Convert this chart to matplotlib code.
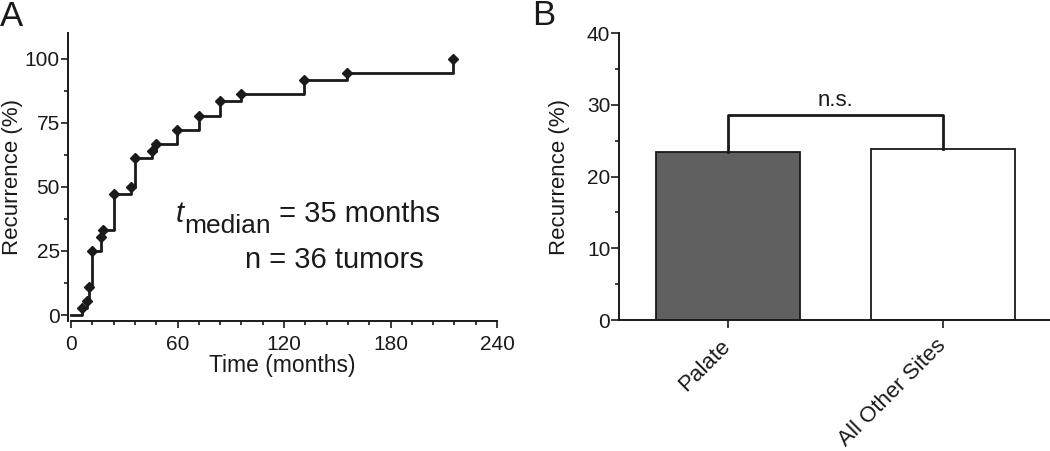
import numpy as np
import matplotlib
matplotlib.use('Agg')
import matplotlib.pyplot as plt
from matplotlib.ticker import MultipleLocator

plt.rcParams['font.family'] = ['Liberation Sans', 'DejaVu Sans']

# panel A: cumulative recurrence (step curve)
event_months = [0, 6, 8.8, 10, 12, 16.7, 18, 24, 33.6, 36, 45.4, 48, 59.5,
                72, 84, 95.6, 131.3, 155.7, 215.4]
recurrence_pct = [0, 2.8, 5.6, 11.1, 25.0, 30.6, 33.3, 47.2, 50.0, 61.1, 63.9,
                  66.7, 72.2, 77.8, 83.3, 86.1, 91.7, 94.4, 100.0]
median_text = ' = 35 months'
n_text = 'n = 36 tumors'

# panel B: recurrence by site
sites = ['Palate', 'All Other Sites']
site_recurrence = [23.5, 23.8]
bracket_height = 28.6
sig_label = 'n.s.'

INK = '#1a1a1a'

fig = plt.figure(figsize=(10.5, 4.51), dpi=100)

# ---------------- panel A ----------------
axA = fig.add_axes([68 / 1050, (451 - 320.7) / 451, (497 - 68) / 1050, (320.7 - 33) / 451])
axA.step(event_months, recurrence_pct, where='post', color=INK, lw=2.0,
         clip_on=False, zorder=3)
axA.plot(event_months[1:], recurrence_pct[1:], 'D', color=INK, markersize=5,
         clip_on=False, zorder=4)

axA.set_xlim(-1.7, 240)
axA.set_ylim(-2.2, 110)
axA.spines['bottom'].set_bounds(0, 240)
for s in ['top', 'right']:
    axA.spines[s].set_visible(False)
for s in ['left', 'bottom']:
    axA.spines[s].set_linewidth(1.4)
    axA.spines[s].set_color(INK)

axA.xaxis.set_major_locator(MultipleLocator(60))
axA.xaxis.set_minor_locator(MultipleLocator(12))
axA.yaxis.set_major_locator(MultipleLocator(25))
axA.yaxis.set_minor_locator(MultipleLocator(12.5))
axA.tick_params(which='major', length=5, width=1.2, color=INK, labelsize=15,
                labelcolor=INK)
axA.tick_params(which='minor', length=3, width=1.2, color=INK)
axA.tick_params(axis='y', pad=1)
axA.tick_params(axis='x', pad=5)
axA.set_xlabel('Time (months)', fontsize=16.5, color=INK, labelpad=0)
axA.set_ylabel('Recurrence (%)', fontsize=16, color=INK, labelpad=1)

t_txt = axA.text(59, 36.2, 't', fontsize=21, style='italic', color=INK,
                 va='baseline', ha='left')
med = axA.annotate('median', xy=(1, 0), xycoords=t_txt, xytext=(0.5, -7),
                   textcoords='offset points', fontsize=19, color=INK,
                   va='bottom', ha='left')
axA.annotate(median_text, xy=(1, 0), xycoords=(med, t_txt), xytext=(0, 0),
             textcoords='offset points', fontsize=21, color=INK,
             va='bottom', ha='left')
axA.text(148.5, 18.2, n_text, fontsize=21, color=INK, va='baseline', ha='center')

fig.text(0.0, 1 - 26 / 451, 'A', fontsize=25, color=INK, va='baseline', ha='left')

# ---------------- panel B ----------------
axB = fig.add_axes([619.3 / 1050, (451 - 320) / 451, (1050 - 619.3) / 1050, (320 - 33.3) / 451])
pos = np.arange(len(sites))
axB.bar(pos, site_recurrence, width=0.67, color=['#606060', 'white'],
        edgecolor=INK, linewidth=1.3, zorder=2)

# significance bracket
axB.plot([pos[0], pos[0], pos[1], pos[1]],
         [site_recurrence[0], bracket_height, bracket_height, site_recurrence[1]],
         color=INK, lw=2.0, zorder=3)
axB.annotate(sig_label, xy=(pos.mean(), bracket_height), xytext=(0, 3),
             textcoords='offset points', ha='center', va='bottom',
             fontsize=16, color=INK)

axB.set_xlim(-0.504, 1.5)
axB.set_ylim(0, 40)
for s in ['top', 'right']:
    axB.spines[s].set_visible(False)
for s in ['left', 'bottom']:
    axB.spines[s].set_linewidth(1.4)
    axB.spines[s].set_color(INK)
axB.yaxis.set_major_locator(MultipleLocator(10))
axB.yaxis.set_minor_locator(MultipleLocator(5))
axB.tick_params(which='major', length=5.5, width=1.2, color=INK, labelsize=15,
                labelcolor=INK)
axB.tick_params(which='minor', length=3, width=1.2, color=INK)
axB.tick_params(axis='y', pad=1)
axB.set_xticks(pos)
axB.set_xticklabels(sites, rotation=45, ha='right', va='center',
                    rotation_mode='anchor', fontsize=16)
axB.tick_params(axis='x', pad=11)
axB.set_ylabel('Recurrence (%)', fontsize=16, color=INK, labelpad=12)

fig.text(532 / 1050, 1 - 25 / 451, 'B', fontsize=25, color=INK, va='baseline', ha='left')

fig.savefig('out.png', dpi=100)
